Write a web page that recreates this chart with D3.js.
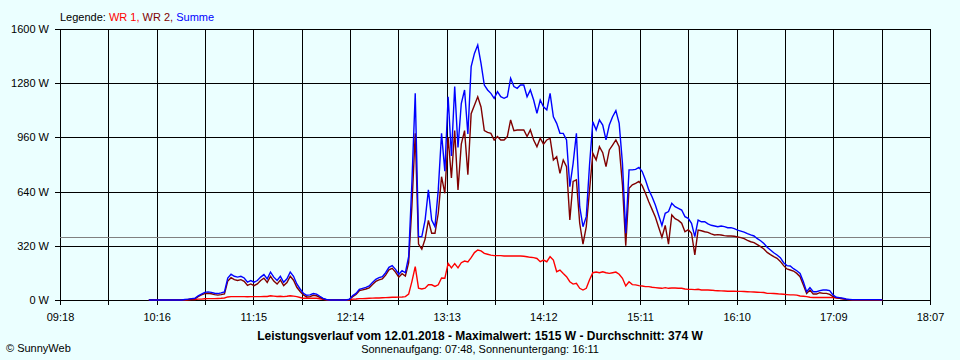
<!DOCTYPE html>
<html>
<head>
<meta charset="utf-8">
<script src="https://cdn.jsdelivr.net/npm/d3@7/dist/d3.min.js"></script>
<style>
  html, body { margin: 0; padding: 0; background: #EBFFFF; }
  svg { display: block; font-family: "Liberation Sans", Arial, sans-serif; }
</style>
</head>
<body>
<svg id="chart" width="960" height="360"></svg>
<script>
// ---- data ----
const xTickLabels = ["09:18","10:16","11:15","12:14","13:13","14:12","15:11","16:10","17:09","18:07"];
const yTickValues = [0, 320, 640, 960, 1280, 1600];
const xStartMin = 558;   // 09:18
const xEndMin = 1087;    // 18:07
const sampleStartMin = 612; // 10:12
const sampleStepMin = 2;
const averageValue = 374;

// WR 1 (red)
const wr1 = [
  0,0,0,0,0,0,0,0,0,0,
  0,0,1,2,3,5,5,7,8,8,
  8,9,10,12,18,20,20,20,20,20,
  19,20,20,20,20,21,21,25,23,21,
  22,20,22,25,23,20,15,10,10,10,
  10,10,7,4,1,0,0,0,0,0,
  0,1,5,6,8,8,9,10,11,12,
  12,13,14,15,16,16,17,18,20,35,
  110,197,70,65,70,90,90,80,90,130,
  128,216,190,215,190,220,230,225,250,280,
  295,290,275,270,265,262,262,262,260,260,
  260,260,260,260,258,255,252,250,245,226,
  236,226,256,236,167,177,157,138,108,94,
  98,69,59,69,120,161,165,161,167,161,
  157,161,165,152,128,83,108,91,89,85,
  83,79,79,75,73,71,69,73,69,71,
  71,69,69,65,63,63,61,63,59,59,
  59,58,56,55,54,53,52,52,52,51,
  51,50,49,48,47,46,45,44,39,39,
  38,37,35,34,32,30,30,29,24,22,
  20,16,15,15,15,15,15,15,14,12,
  10,7,4,2,1,1,1,1,1,1,
  1,1,1,0
];
// WR 2 (dark red)
const wr2 = [
  0,0,0,0,0,0,0,0,0,0,
  0,2,4,6,7,20,30,38,40,37,
  32,29,32,36,112,132,120,115,120,110,
  86,95,85,95,115,129,104,140,112,94,
  118,85,103,140,117,75,50,30,18,20,
  28,25,15,6,2,0,0,0,0,0,
  0,4,20,32,55,60,65,72,92,110,
  119,125,147,178,187,165,135,155,141,220,
  560,984,330,300,360,470,394,394,512,728,
  630,960,720,1000,650,920,1000,740,1100,1150,
  1200,1140,1000,990,984,945,965,945,945,965,
  1063,1000,1004,1004,1004,965,1004,945,905,955,
  920,945,955,827,846,748,827,787,472,700,
  709,453,330,433,650,866,827,905,870,787,
  886,915,945,905,680,320,660,680,688,700,
  675,630,580,535,490,430,370,440,330,502,
  480,470,453,403,415,394,266,413,409,403,
  399,390,384,386,384,380,378,378,376,372,
  368,362,352,344,339,327,315,301,281,268,
  256,246,228,203,183,177,171,157,138,89,
  39,59,35,35,43,39,39,33,20,14,
  10,7,4,2,1,1,1,1,1,1,
  1,1,1,0
];
// Summe (blue)
const summe = [
  0,0,0,0,0,0,0,0,0,0,
  0,3,5,8,10,25,35,45,48,45,
  40,38,42,48,130,152,140,135,140,130,
  105,115,105,115,135,150,125,165,135,115,
  140,105,125,165,140,95,65,40,28,30,
  38,35,22,10,3,0,0,0,0,0,
  0,5,26,39,63,69,75,83,104,122,
  132,138,161,193,203,181,152,173,161,256,
  700,1220,374,374,472,650,472,433,650,984,
  760,1200,850,1260,900,1160,1240,980,1378,1456,
  1505,1397,1269,1240,1220,1191,1230,1200,1191,1200,
  1309,1260,1250,1269,1269,1200,1240,1181,1102,1181,
  1141,1122,1220,1082,1043,984,984,945,669,807,
  984,551,433,492,800,1053,1004,1063,1033,945,
  1033,1082,1118,1043,807,394,768,768,771,783,
  758,708,650,610,561,500,440,512,522,571,
  551,541,531,492,482,453,374,472,462,462,
  449,441,437,433,437,433,427,427,421,413,
  407,401,392,384,378,362,350,333,311,295,
  279,266,250,220,203,201,185,173,157,108,
  49,73,49,49,55,59,59,55,30,16,
  14,10,6,4,2,2,2,2,2,2,
  2,2,2,1
];

// ---- layout ----
const W = 960, H = 360;
const plot = { left: 60, right: 930, top: 29, bottom: 300 };
const svg = d3.select("#chart");

svg.append("rect").attr("width", W).attr("height", H).attr("fill", "#EBFFFF");

const x = d3.scaleLinear().domain([xStartMin, xEndMin]).range([plot.left, plot.right]);
const y = d3.scaleLinear().domain([0, 1600]).range([plot.bottom, plot.top]);

const nGrid = 18;
const gridTimes = d3.range(nGrid + 1).map(k => xStartMin + k * (xEndMin - xStartMin) / nGrid);

// grid
const grid = svg.append("g").attr("stroke", "#000").attr("stroke-width", 1).attr("shape-rendering", "crispEdges");
grid.selectAll("line.h").data(yTickValues).join("line")
  .attr("x1", plot.left - 5).attr("x2", plot.right)
  .attr("y1", d => Math.round(y(d)) + 0.5).attr("y2", d => Math.round(y(d)) + 0.5);
grid.selectAll("line.v").data(gridTimes).join("line")
  .attr("x1", d => Math.round(x(d)) + 0.5).attr("x2", d => Math.round(x(d)) + 0.5)
  .attr("y1", plot.top).attr("y2", plot.bottom + 5);

// average line
svg.append("line")
  .attr("x1", plot.left).attr("x2", plot.right)
  .attr("y1", Math.round(y(averageValue)) + 0.5).attr("y2", Math.round(y(averageValue)) + 0.5)
  .attr("stroke", "#808080").attr("stroke-width", 1).attr("shape-rendering", "crispEdges");

// axes (labels)
const yAxis = d3.axisLeft(y).tickValues(yTickValues).tickSize(5).tickPadding(6)
  .tickFormat(d => d + " W");
const gy = svg.append("g").attr("transform", `translate(${plot.left},0)`).call(yAxis);
gy.select(".domain").remove();
gy.selectAll(".tick line").remove();
gy.selectAll("text").attr("font-size", 11).attr("font-family", "Liberation Sans, Arial, sans-serif").attr("fill", "#000");

const labelTimes = gridTimes.filter((d, i) => i % 2 === 0);
const xAxis = d3.axisBottom(x).tickValues(labelTimes).tickSize(5).tickPadding(8)
  .tickFormat((d, i) => xTickLabels[i]);
const gx = svg.append("g").attr("transform", `translate(0,${plot.bottom})`).call(xAxis);
gx.select(".domain").remove();
gx.selectAll(".tick line").remove();
gx.selectAll("text").attr("font-size", 11).attr("font-family", "Liberation Sans, Arial, sans-serif").attr("fill", "#000");

// series
const timeOf = i => sampleStartMin + i * sampleStepMin;
const line = d3.line().x((d, i) => x(timeOf(i))).y(d => y(d));
const series = [
  { values: wr1, color: "#FF0000" },
  { values: wr2, color: "#800000" },
  { values: summe, color: "#0000FF" }
];
svg.append("g").selectAll("path").data(series).join("path")
  .attr("d", s => line(s.values))
  .attr("fill", "none")
  .attr("stroke", s => s.color)
  .attr("stroke-width", 1.4)
  .attr("stroke-linejoin", "miter");

// legend
const legend = svg.append("text").attr("x", 60).attr("y", 21).attr("font-size", 11);
legend.append("tspan").attr("fill", "#000").text("Legende: ");
legend.append("tspan").attr("fill", "#FF0000").text("WR 1, ");
legend.append("tspan").attr("fill", "#800000").text("WR 2, ");
legend.append("tspan").attr("fill", "#0000FF").text("Summe");

// titles
svg.append("text").attr("x", 480).attr("y", 340).attr("text-anchor", "middle")
  .attr("font-size", 12).attr("font-weight", "bold").attr("fill", "#000")
  .text("Leistungsverlauf vom 12.01.2018 - Maximalwert: 1515 W - Durchschnitt: 374 W");
svg.append("text").attr("x", 480).attr("y", 353).attr("text-anchor", "middle")
  .attr("font-size", 11).attr("fill", "#000")
  .text("Sonnenaufgang: 07:48, Sonnenuntergang: 16:11");
svg.append("text").attr("x", 6).attr("y", 352)
  .attr("font-size", 11).attr("fill", "#000")
  .text("© SunnyWeb");
</script>
</body>
</html>
